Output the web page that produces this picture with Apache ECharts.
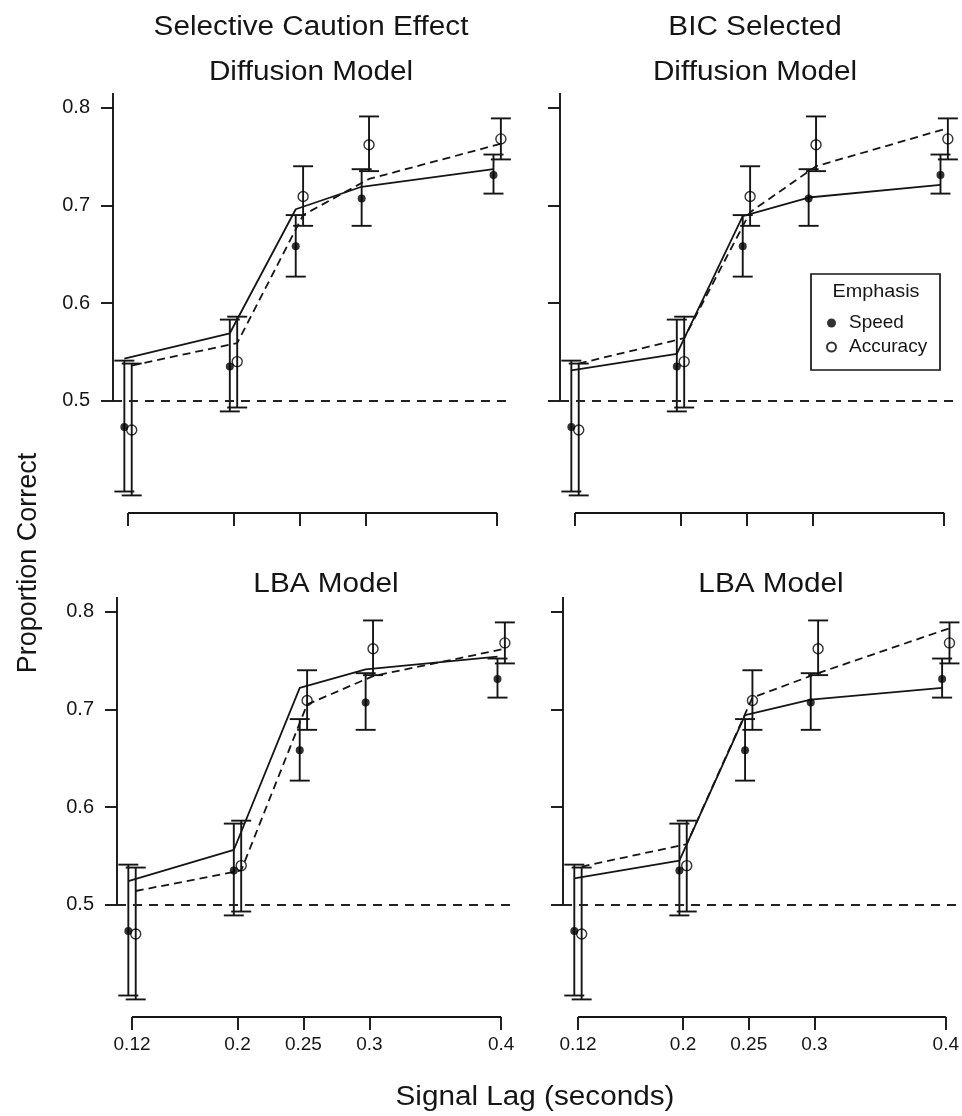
<!DOCTYPE html>
<html><head><meta charset="utf-8">
<script src="https://cdn.jsdelivr.net/npm/echarts@6/dist/echarts.min.js"></script>
<style>html,body{margin:0;padding:0;background:#fff}#c{width:962px;height:1116px}</style>
</head><body><div id="c"></div>
<script>
// ---------- data ----------
const lags = [0.12, 0.2, 0.25, 0.3, 0.4];
const yTicks = [0.5, 0.6, 0.7, 0.8];

// observed proportions with error bars
const speedObs = [0.473, 0.535, 0.658, 0.707, 0.731];
const speedLo  = [0.407, 0.489, 0.627, 0.679, 0.712];
const speedHi  = [0.541, 0.583, 0.690, 0.737, 0.752];
const accObs   = [0.470, 0.540, 0.709, 0.762, 0.768];
const accLo    = [0.403, 0.493, 0.679, 0.735, 0.747];
const accHi    = [0.538, 0.586, 0.740, 0.791, 0.789];

// model predictions
const diffSelSpeed = [0.543, 0.569, 0.696, 0.719, 0.737];
const diffSelAcc   = [0.536, 0.559, 0.690, 0.727, 0.763];
const diffBicSpeed = [0.531, 0.548, 0.689, 0.708, 0.721];
const diffBicAcc   = [0.538, 0.564, 0.693, 0.740, 0.779];
const lbaSelSpeed  = [0.524, 0.556, 0.722, 0.741, 0.754];
const lbaSelAcc    = [0.514, 0.535, 0.705, 0.734, 0.762];
const lbaBicSpeed  = [0.527, 0.545, 0.694, 0.710, 0.722];
const lbaBicAcc    = [0.539, 0.562, 0.712, 0.737, 0.783];

const titlesTL = ['Selective Caution Effect', 'Diffusion Model'];
const titlesTR = ['BIC Selected', 'Diffusion Model'];
const titlesBL = ['LBA Model'];
const titlesBR = ['LBA Model'];
const chance = 0.5;

// ---------- layout ----------
const XMIN = 0.1086, XMAX = 0.412, YMIN = 0.385, YMAX = 0.815;
const DODGE = 0.0028;
const FONT = '"Liberation Sans", Arial, Helvetica, sans-serif';
const INK = '#151515';
const SX = 1.1; // horizontal stretch of the reference lettering

const panels = [
  {left: 113, top: 93,  speed: diffSelSpeed, acc: diffSelAcc, titles: titlesTL, tx: 311, ty: [28, 73], xl: false, yl: true},
  {left: 560, top: 93,  speed: diffBicSpeed, acc: diffBicAcc, titles: titlesTR, tx: 755, ty: [28, 73], xl: false, yl: false},
  {left: 117, top: 597, speed: lbaSelSpeed,  acc: lbaSelAcc,  titles: titlesBL, tx: 326, ty: [585], xl: true, yl: true},
  {left: 563, top: 597, speed: lbaBicSpeed,  acc: lbaBicAcc,  titles: titlesBR, tx: 771, ty: [585], xl: true, yl: false}
];
const GW = 400, GH = 420;

function errRender(dodge) {
  return function (params, api) {
    const x = api.value(0) + dodge;
    const lo = api.coord([x, api.value(1)]);
    const hi = api.coord([x, api.value(2)]);
    const w = 10;
    const style = {stroke: INK, lineWidth: 1.9, fill: null};
    return {type: 'group', children: [
      {type: 'line', shape: {x1: lo[0], y1: lo[1], x2: hi[0], y2: hi[1]}, style: style},
      {type: 'line', shape: {x1: lo[0] - w, y1: lo[1], x2: lo[0] + w, y2: lo[1]}, style: style},
      {type: 'line', shape: {x1: hi[0] - w, y1: hi[1], x2: hi[0] + w, y2: hi[1]}, style: style}
    ]};
  };
}

const grid = [], xAxis = [], yAxis = [], series = [], graphic = [];
panels.forEach((p, i) => {
  grid.push({left: p.left, top: p.top, width: GW, height: GH, containLabel: false});
  xAxis.push({
    type: 'value', gridIndex: i, min: XMIN, max: XMAX,
    axisLine: {show: false}, splitLine: {show: false},
    axisTick: {show: true, customValues: lags, length: 13, inside: false,
               lineStyle: {color: INK, width: 1.9}},
    axisLabel: {show: p.xl, customValues: lags, margin: 18, fontSize: 19,
                fontFamily: FONT, color: INK, formatter: v => String(v)}
  });
  yAxis.push({
    type: 'value', gridIndex: i, min: YMIN, max: YMAX,
    axisLine: {show: false}, splitLine: {show: false},
    axisTick: {show: true, customValues: yTicks, length: 12, inside: false,
               lineStyle: {color: INK, width: 1.9}},
    axisLabel: {show: p.yl, customValues: yTicks, margin: 23, fontSize: 20,
                fontFamily: FONT, color: INK, formatter: v => v.toFixed(1)}
  });
  // axis lines and chance reference line
  series.push({
    type: 'line', xAxisIndex: i, yAxisIndex: i, data: [], clip: false, silent: true,
    markLine: {
      symbol: ['none', 'none'], silent: true, animation: false,
      label: {show: false},
      lineStyle: {color: INK, width: 1.9, type: 'solid'},
      data: [
        [{coord: [XMIN, chance]}, {coord: [XMIN, YMAX]}],
        [{coord: [lags[0], YMIN]}, {coord: [lags[lags.length - 1], YMIN]}],
        [{coord: [XMIN, chance], lineStyle: {type: [9, 7], width: 1.9, color: '#222'}},
         {coord: [XMAX, chance]}]
      ]
    }
  });
  // error bars
  series.push({
    type: 'custom', xAxisIndex: i, yAxisIndex: i, clip: false, silent: true,
    renderItem: errRender(-DODGE), encode: {x: 0, y: [1, 2]},
    data: lags.map((l, k) => [l, speedLo[k], speedHi[k]]), z: 2
  });
  series.push({
    type: 'custom', xAxisIndex: i, yAxisIndex: i, clip: false, silent: true,
    renderItem: errRender(DODGE), encode: {x: 0, y: [1, 2]},
    data: lags.map((l, k) => [l, accLo[k], accHi[k]]), z: 2
  });
  // model lines
  series.push({
    name: 'Speed model', type: 'line', xAxisIndex: i, yAxisIndex: i, symbol: 'none', silent: true,
    lineStyle: {color: INK, width: 1.8, type: 'solid'}, z: 3,
    data: lags.map((l, k) => [l - DODGE, p.speed[k]])
  });
  series.push({
    name: 'Accuracy model', type: 'line', xAxisIndex: i, yAxisIndex: i, symbol: 'none', silent: true,
    lineStyle: {color: INK, width: 1.8, type: [8, 5]}, z: 3,
    data: lags.map((l, k) => [l + DODGE, p.acc[k]])
  });
  // observed points
  series.push({
    name: 'Speed', type: 'scatter', xAxisIndex: i, yAxisIndex: i, symbol: 'circle', symbolSize: 8,
    itemStyle: {color: '#000'}, z: 4, silent: true,
    data: lags.map((l, k) => [l - DODGE, speedObs[k]])
  });
  series.push({
    name: 'Accuracy', type: 'scatter', xAxisIndex: i, yAxisIndex: i, symbol: 'circle', symbolSize: 10,
    itemStyle: {color: 'rgba(255,255,255,0)', borderColor: '#000', borderWidth: 1.4}, z: 4, silent: true,
    data: lags.map((l, k) => [l + DODGE, accObs[k]])
  });
  p.titles.forEach((t, j) => {
    graphic.push({type: 'text', x: p.tx, y: p.ty[j], scaleX: SX,
      style: {text: t, font: '27px ' + FONT, fill: INK, textAlign: 'center', textVerticalAlign: 'middle'}});
  });
});

// axis titles
graphic.push({type: 'text', x: 29, y: 563, rotation: Math.PI / 2,
  style: {text: 'Proportion Correct', font: '27px ' + FONT, fill: INK, textAlign: 'center', textVerticalAlign: 'middle'}});
graphic.push({type: 'text', x: 535, y: 1098, scaleX: SX,
  style: {text: 'Signal Lag (seconds)', font: '27px ' + FONT, fill: INK, textAlign: 'center', textVerticalAlign: 'middle'}});
// legend box + title
graphic.push({type: 'rect', shape: {x: 811, y: 274, width: 129, height: 96},
  style: {fill: '#fff', stroke: INK, lineWidth: 1.7}, z: 10});
graphic.push({type: 'text', x: 876, y: 292, z: 11, scaleX: SX,
  style: {text: 'Emphasis', font: '18px ' + FONT, fill: INK, textAlign: 'center', textVerticalAlign: 'middle'}});

const chart = echarts.init(document.getElementById('c'), null, {renderer: 'canvas'});
chart.setOption({
  animation: false,
  backgroundColor: '#fff',
  grid, xAxis, yAxis, series, graphic,
  legend: {
    orient: 'vertical', left: 826, top: 313, z: 12, padding: 0,
    itemWidth: 9, itemHeight: 9, itemGap: 4, selectedMode: false,
    textStyle: {fontSize: 19, lineHeight: 20, fontFamily: FONT, color: INK, padding: [0, 0, 0, 8]},
    data: [{name: 'Speed', icon: 'circle'}, {name: 'Accuracy', icon: 'circle'}]
  }
});
</script></body></html>
